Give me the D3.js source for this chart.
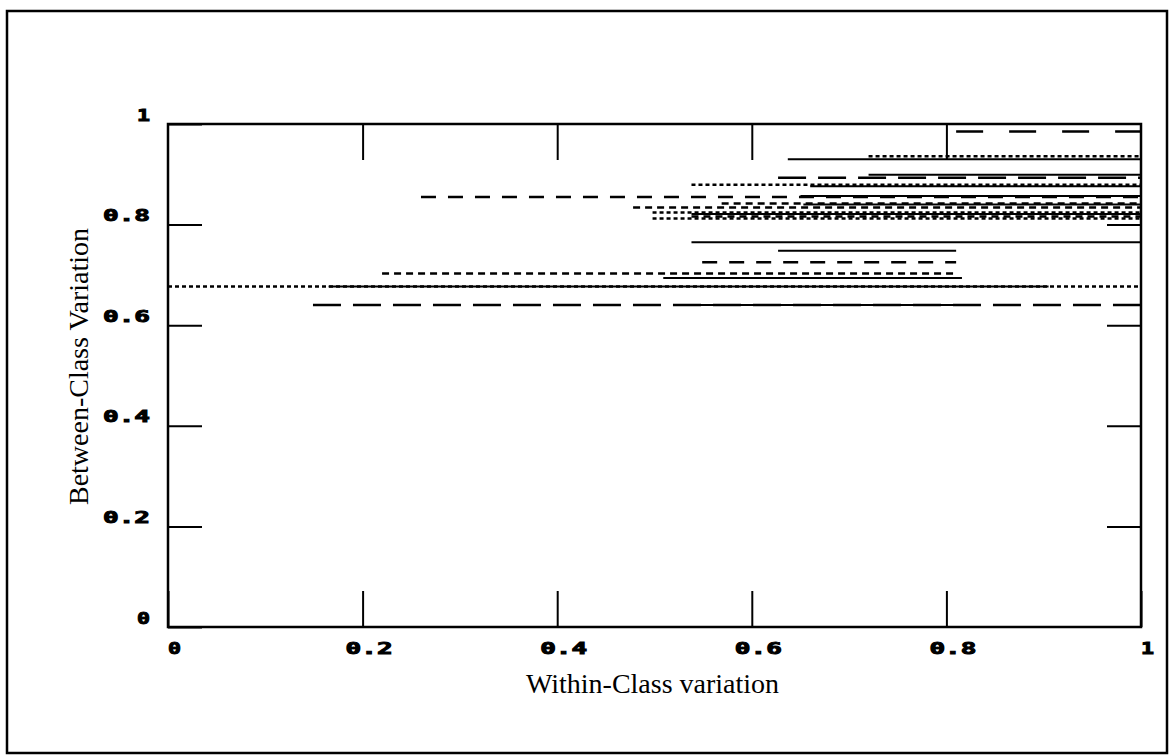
<!DOCTYPE html>
<html>
<head>
<meta charset="utf-8">
<script src="https://cdn.jsdelivr.net/npm/d3@7"></script>
<style>
  body { margin: 0; background: #fff; }
  svg { display: block; }
</style>
</head>
<body>
<div id="chart"></div>
<script>
// Each horizontal segment: where it starts / ends on the x axis, its y value and line style
const segStart = [0.81, 0.637, 0.72, 0.72, 0.627, 0.538, 0.66, 0.26, 0.65, 0.569, 0.653, 0.478, 0.498, 0.538, 0.498, 0.538, 0.538, 0.627, 0.549, 0.22, 0.509, 0.0, 0.165, 0.149, 0.52];
const segEnd   = [1.0, 1.0, 1.0, 1.0, 1.0, 1.0, 1.0, 1.0, 1.0, 1.0, 1.0, 1.0, 1.0, 1.0, 1.0, 1.0, 1.0, 0.81, 0.81, 0.81, 0.816, 1.0, 0.905, 1.0, 0.815];
const segValue = [0.985, 0.930, 0.936, 0.899, 0.893, 0.879, 0.876, 0.855, 0.857, 0.842, 0.840, 0.834, 0.824, 0.821, 0.812, 0.816, 0.765, 0.748, 0.725, 0.703, 0.694, 0.677, 0.677, 0.640, 0.640];
const segStyle = ["wide", "solid", "dot", "solid", "long2", "dot", "solid", "long", "solid", "short", "solid", "short", "dot", "solid", "dot", "short", "solid", "solid", "long", "short", "solid", "dot", "solid", "long2", "solid"];

const xTicks = [0, 0.2, 0.4, 0.6, 0.8, 1];
const yTicks = [0, 0.2, 0.4, 0.6, 0.8, 1];
const tickLabel = v => v === 0 ? "0" : v === 1 ? "1" : v.toFixed(1);

const dashes = { solid: null, dot: "4,3", short: "7,5", long: "15,12", long2: "28,12", wide: "27,26" };

const W = 1173, H = 755;
const margin = { left: 168, right: 32, top: 124, bottom: 128 };
const innerW = W - margin.left - margin.right;
const innerH = H - margin.top - margin.bottom;

const svg = d3.select("#chart").append("svg")
    .attr("width", W)
    .attr("height", H);

// outer frame of the figure
svg.append("rect")
    .attr("x", 7).attr("y", 11)
    .attr("width", 1160).attr("height", 742)
    .attr("fill", "none")
    .attr("stroke", "#000")
    .attr("stroke-width", 2.5);

const g = svg.append("g")
    .attr("transform", `translate(${margin.left},${margin.top})`);

const x = d3.scaleLinear().domain([0, 1]).range([0, innerW]);
const y = d3.scaleLinear().domain([0, 1]).range([innerH, 0]);

// chunky bold tick labels, like the old bitmap font
const labelFont = g => g.selectAll("text")
    .attr("fill", "#000")
    .attr("stroke", "#000")
    .attr("stroke-width", 0.9)
    .style("font-family", "'DejaVu Sans Mono', monospace")
    .style("font-weight", "bold")
    .style("font-size", "15px")
    .attr("textLength", d => tickLabel(d).length === 1 ? 13 : 47)
    .attr("lengthAdjust", "spacingAndGlyphs");

const tickStyle = g => {
    g.select(".domain").remove();
    g.selectAll(".tick line").attr("stroke", "#000").attr("stroke-width", 2);
};

// left axis, ticks pointing inwards
g.append("g")
    .call(d3.axisLeft(y).tickValues(yTicks).tickSize(-34).tickPadding(18).tickFormat(tickLabel))
    .call(tickStyle)
    .call(labelFont)
    .call(a => a.selectAll("text").attr("dy", null).attr("y", -4));

// right axis, no labels
g.append("g")
    .attr("transform", `translate(${innerW},0)`)
    .call(d3.axisRight(y).tickValues(yTicks.slice(1, -1)).tickSize(-34).tickFormat(""))
    .call(tickStyle);

// bottom axis
g.append("g")
    .attr("transform", `translate(0,${innerH})`)
    .call(d3.axisBottom(x).tickValues(xTicks).tickSize(-36).tickFormat(tickLabel))
    .call(tickStyle)
    .call(labelFont)
    .call(a => a.selectAll("text").attr("dy", null).attr("y", 27).attr("x", 6));

// top axis, no labels
g.append("g")
    .call(d3.axisTop(x).tickValues(xTicks.slice(1, -1)).tickSize(-36).tickFormat(""))
    .call(tickStyle);

// segments
const segs = segValue.map((v, i) => ({ x0: segStart[i], x1: segEnd[i], v: v, style: segStyle[i] }));
g.append("g")
    .selectAll("line")
    .data(segs)
    .join("line")
    .attr("x1", d => x(d.x0))
    .attr("x2", d => x(d.x1))
    .attr("y1", d => y(d.v))
    .attr("y2", d => y(d.v))
    .attr("stroke", "#000")
    .attr("stroke-width", d => d.style === "solid" ? 2 : 2.5)
    .attr("stroke-dasharray", d => dashes[d.style]);

// plot frame
g.append("rect")
    .attr("width", innerW)
    .attr("height", innerH)
    .attr("fill", "none")
    .attr("stroke", "#000")
    .attr("stroke-width", 2.5);

// axis titles
g.append("text")
    .attr("x", innerW / 2 - 2)
    .attr("y", innerH + 66)
    .attr("text-anchor", "middle")
    .style("font-family", "'Liberation Serif', serif")
    .style("font-size", "28px")
    .text("Within-Class variation");

g.append("text")
    .attr("transform", `translate(${88 - margin.left},${innerH / 2 - 9}) rotate(-90)`)
    .attr("text-anchor", "middle")
    .style("font-family", "'Liberation Serif', serif")
    .style("font-size", "28px")
    .text("Between-Class Variation");
</script>
</body>
</html>
